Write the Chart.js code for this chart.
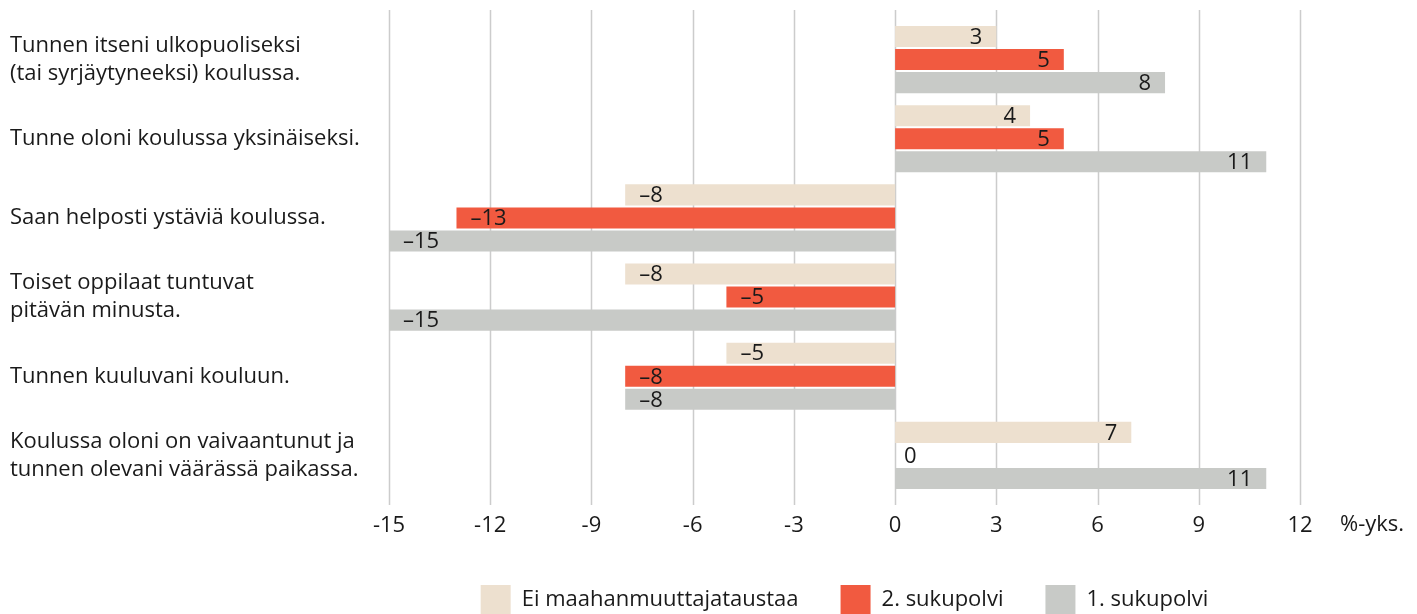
<!DOCTYPE html>
<html>
<head>
<meta charset="utf-8">
<script src="https://cdn.jsdelivr.net/npm/chart.js@4/dist/chart.umd.min.js"></script>
<style>
  html, body { margin: 0; padding: 0; background: #fff; }
  #wrap { width: 1417px; height: 614px; }
</style>
</head>
<body>
<div id="wrap"><canvas id="myBarChart"></canvas></div>
<script>
var categories = [
    ["Tunnen itseni ulkopuoliseksi", "(tai syrjäytyneeksi) koulussa."],
    "Tunne oloni koulussa yksinäiseksi.",
    "Saan helposti ystäviä koulussa.",
    ["Toiset oppilaat tuntuvat", "pitävän minusta."],
    "Tunnen kuuluvani kouluun.",
    ["Koulussa oloni on vaivaantunut ja", "tunnen olevani väärässä paikassa."]
];
var seriesNames = ["Ei maahanmuuttajataustaa", "2. sukupolvi", "1. sukupolvi"];
var eiTaustaa = [3, 4, -8, -8, -5, 7];
var toinenPolvi = [5, 5, -13, -5, -8, 0];
var ensimmainenPolvi = [8, 11, -15, -15, -8, 11];
var xTicks = [-15, -12, -9, -6, -3, 0, 3, 6, 9, 12];
var unitLabel = "%-yks.";

var FONT = "'Open Sans', sans-serif";
var TEXT = "#1a1a1a";

// gridlines a bit taller than the plot area, like the original
var gridPlugin = {
    id: 'tallGrid',
    beforeDatasetsDraw: function(chart){
        var ctx = chart.ctx, a = chart.chartArea, x = chart.scales.x;
        ctx.save();
        ctx.strokeStyle = "#cccccc";
        ctx.lineWidth = 1.5;
        xTicks.forEach(function(t){
            var px = Math.round(x.getPixelForValue(t)) + 0.5;
            ctx.beginPath();
            ctx.moveTo(px, a.top - 10);
            ctx.lineTo(px, a.bottom + 10);
            ctx.stroke();
        });
        ctx.restore();
    }
};

// value labels inside bar ends + unit text
var labelPlugin = {
    id: 'valueLabels',
    afterDatasetsDraw: function(chart){
        var ctx = chart.ctx;
        ctx.save();
        ctx.font = "22px " + FONT;
        ctx.fillStyle = TEXT;
        ctx.textBaseline = "middle";
        chart.data.datasets.forEach(function(ds, i){
            var meta = chart.getDatasetMeta(i);
            meta.data.forEach(function(el, j){
                var v = ds.data[j];
                var txt = v < 0 ? "\u2013" + Math.abs(v) : String(v);
                if (v > 0) {
                    ctx.textAlign = "right";
                    ctx.fillText(txt, el.x - 14, el.y + 1);
                } else if (v < 0) {
                    ctx.textAlign = "left";
                    ctx.fillText(txt, el.x + 14, el.y + 1);
                } else {
                    ctx.textAlign = "left";
                    ctx.fillText(txt, el.base + 9, el.y + 1);
                }
            });
        });
        var a = chart.chartArea;
        ctx.textAlign = "left";
        ctx.fillText(unitLabel, a.right + 40, a.bottom + 30);
        ctx.restore();
    }
};

function chart(){
    var data = {
        labels: categories,
        datasets: [
            { label: seriesNames[0], data: eiTaustaa, backgroundColor: "#ede0cf" },
            { label: seriesNames[1], data: toinenPolvi, backgroundColor: "#f15a40" },
            { label: seriesNames[2], data: ensimmainenPolvi, backgroundColor: "#c8cac7" }
        ]
    };

    var ctx = document.getElementById("myBarChart");
    new Chart(ctx, {
        type: 'bar',
        data: data,
        plugins: [gridPlugin, labelPlugin],
        options: {
            indexAxis: 'y',
            responsive: true,
            maintainAspectRatio: false,
            animation: false,
            categoryPercentage: 0.873,
            barPercentage: 0.913,
            layout: { padding: { left: 10, right: 117, top: 20, bottom: 0 } },
            plugins: {
                tooltip: { enabled: false },
                legend: {
                    position: 'bottom',
                    fullSize: false,
                    maxHeight: 71,
                    labels: {
                        boxWidth: 30,
                        boxHeight: 30,
                        padding: 42,
                        color: TEXT,
                        font: { family: FONT, size: 22 }
                    }
                }
            },
            scales: {
                x: {
                    min: -15,
                    max: 12,
                    grid: { display: false },
                    border: { display: false },
                    afterBuildTicks: function(scale){
                        scale.ticks = xTicks.map(function(v){ return { value: v }; });
                    },
                    afterFit: function(scale){ scale.height = 48; },
                    ticks: {
                        padding: 10,
                        color: TEXT,
                        font: { family: FONT, size: 22 },
                        callback: function(v){ return String(v); }
                    }
                },
                y: {
                    grid: { display: false },
                    border: { display: false },
                    afterFit: function(scale){
                        scale.width = 379;
                        scale.paddingTop = 0;
                        scale.paddingBottom = 0;
                    },
                    ticks: {
                        crossAlign: 'far',
                        padding: 0,
                        color: TEXT,
                        font: { family: FONT, size: 22, lineHeight: 1.27 }
                    }
                }
            }
        }
    });
}

chart();
</script>
</body>
</html>
